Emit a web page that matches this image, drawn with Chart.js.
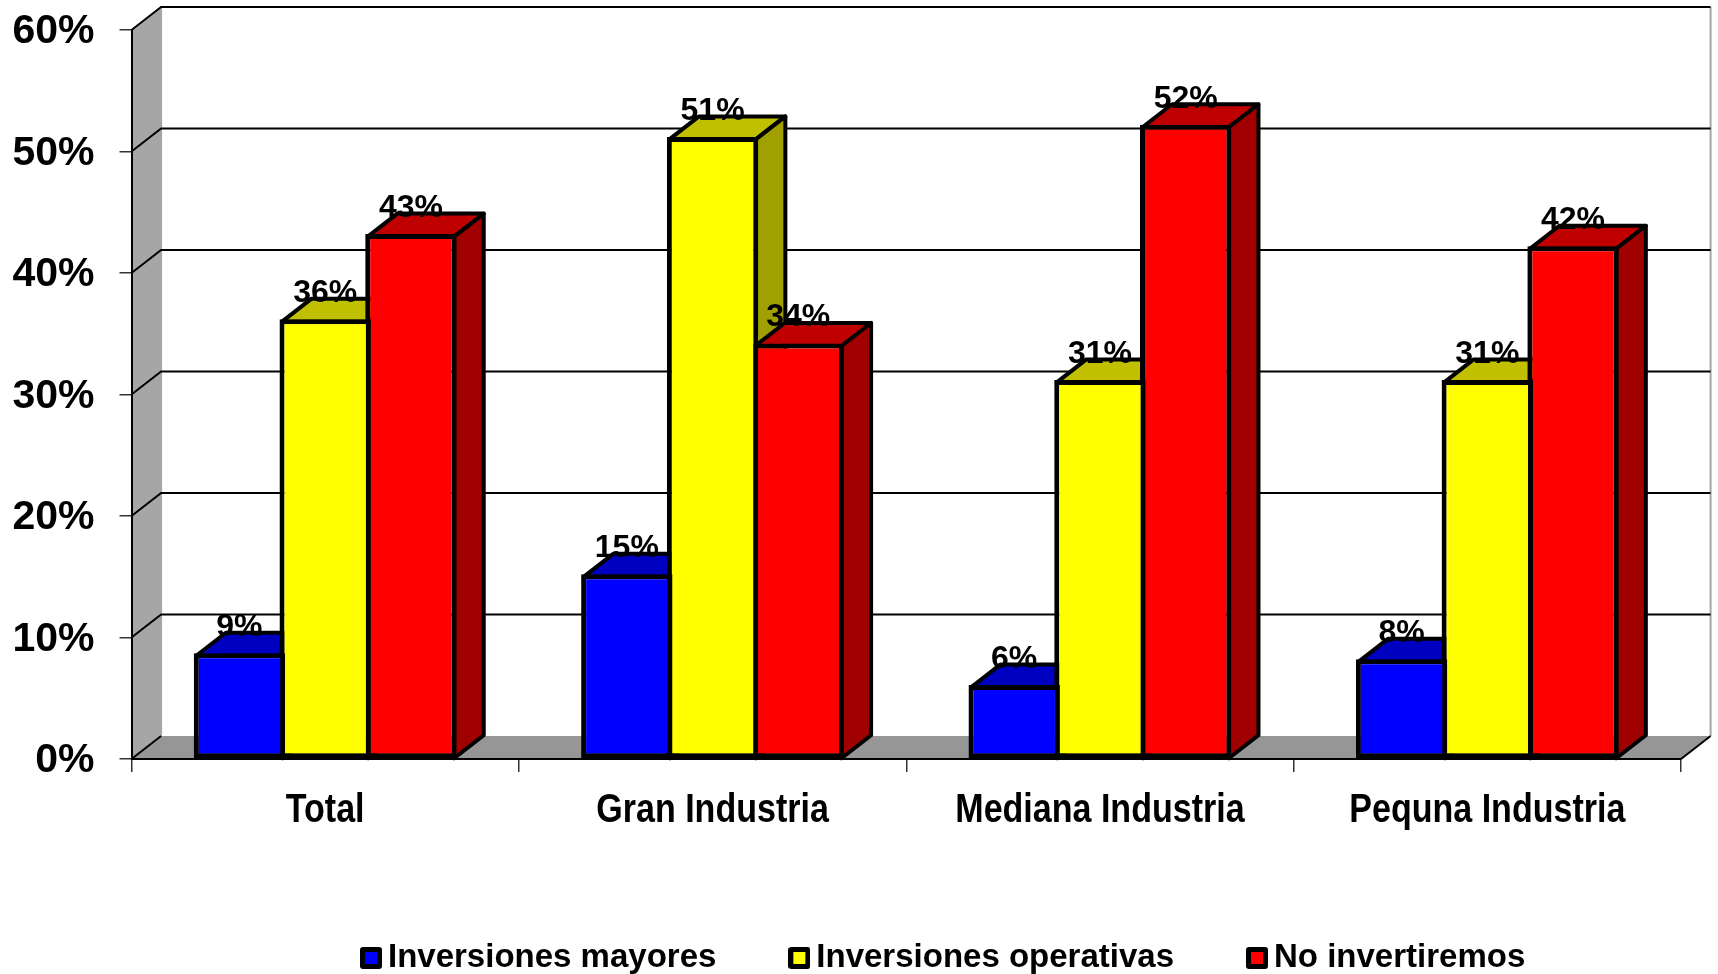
<!DOCTYPE html>
<html lang="es">

<head>
    <meta charset="UTF-8">
    <title>Inversiones por tamaño de industria</title>
    <script src="https://cdn.jsdelivr.net/npm/chart.js"></script>
    <style>
        html, body { margin: 0; padding: 0; background: #fff; overflow: hidden; }
        canvas { display: block; }
    </style>
</head>

<body>
    <canvas id="barChart" width="1718" height="974"></canvas>

    <script>
        const categories = ['Total', 'Gran Industria', 'Mediana Industria', 'Pequna Industria'];
        const seriesNames = ['Inversiones mayores', 'Inversiones operativas', 'No invertiremos'];
        const inversionesMayores = [8.7, 15.2, 6.1, 8.2];
        const inversionesOperativas = [36.2, 51.2, 31.2, 31.2];
        const noInvertiremos = [43.2, 34.2, 52.2, 42.2];

        // front, top, side face of each series
        const faceColors = [
            ['#0000ff', '#0000c0', '#0000a0'],
            ['#ffff00', '#c0c000', '#a0a000'],
            ['#ff0000', '#c00000', '#a00000']
        ];
        const depthX = 29.6;
        const depthY = 23;

        // legend marker, handed to the legend as an image point style
        function legendMarker(color) {
            const c = document.createElement('canvas');
            c.width = 22;
            c.height = 22;
            const g = c.getContext('2d');
            g.fillStyle = '#000';
            g.beginPath();
            g.roundRect(0, 0, 22, 22, 3);
            g.fill();
            g.fillStyle = color;
            g.fillRect(5, 5, 12, 12);
            return c;
        }

        function polygon(ctx, points, fill, stroke, width) {
            ctx.beginPath();
            points.forEach((p, i) => i ? ctx.lineTo(p[0], p[1]) : ctx.moveTo(p[0], p[1]));
            ctx.closePath();
            ctx.fillStyle = fill;
            ctx.fill();
            if (stroke) {
                ctx.strokeStyle = stroke;
                ctx.lineWidth = width;
                ctx.lineJoin = 'round';
                ctx.stroke();
            }
        }

        // side wall, floor and the gridlines of the back plane
        const wallsPlugin = {
            id: 'walls',
            beforeDraw(chart) {
                const { ctx, chartArea: a, scales } = chart;
                ctx.save();
                polygon(ctx, [[a.left, a.top], [a.left + depthX, a.top - depthY], [a.left + depthX, a.bottom - depthY], [a.left, a.bottom]], '#a6a6a6');
                polygon(ctx, [[a.left, a.bottom], [a.left + depthX, a.bottom - depthY], [a.right + depthX, a.bottom - depthY], [a.right, a.bottom]], '#969696');

                ctx.strokeStyle = '#a6a6a6';
                ctx.lineWidth = 2;
                ctx.beginPath();
                ctx.moveTo(a.left + depthX, a.top - depthY);
                ctx.lineTo(a.left + depthX, a.bottom - depthY);
                ctx.moveTo(a.right + depthX, a.top - depthY);
                ctx.lineTo(a.right + depthX, a.bottom - depthY);
                ctx.stroke();

                ctx.strokeStyle = '#000';
                scales.y.ticks.forEach(t => {
                    const y = scales.y.getPixelForValue(t.value);
                    ctx.beginPath();
                    ctx.moveTo(a.left, y);
                    ctx.lineTo(a.left + depthX, y - depthY);
                    if (t.value > 0) ctx.lineTo(a.right + depthX, y - depthY);
                    ctx.stroke();
                });
                ctx.beginPath();
                ctx.moveTo(a.right, a.bottom);
                ctx.lineTo(a.right + depthX, a.bottom - depthY);
                ctx.stroke();
                ctx.restore();
            }
        };

        // tops and sides of all bars left to right; the library then puts the fronts over them
        const depthPlugin = {
            id: 'depth',
            beforeDatasetsDraw(chart) {
                const ctx = chart.ctx;
                ctx.save();
                categories.forEach((c, j) => {
                    faceColors.forEach((colors, i) => {
                        const p = chart.getDatasetMeta(i).data[j].getProps(['x', 'y', 'base', 'width'], true);
                        const l = p.x - p.width / 2 + 2.5;
                        const r = p.x + p.width / 2 - 2.5;
                        const t = p.y + 2.5;
                        polygon(ctx, [[l, t], [l + depthX, t - depthY], [r + depthX, t - depthY], [r, t]], colors[1], '#000', 4);
                        polygon(ctx, [[r, t], [r + depthX, t - depthY], [r + depthX, p.base - depthY], [r, p.base]], colors[2], '#000', 4);
                    });
                });
                ctx.restore();
            }
        };

        const valueLabelPlugin = {
            id: 'valueLabels',
            afterDatasetsDraw(chart) {
                const ctx = chart.ctx;
                ctx.save();
                ctx.fillStyle = '#000';
                ctx.font = 'bold 32px "Liberation Sans", Arial, sans-serif';
                ctx.textAlign = 'center';
                ctx.textBaseline = 'alphabetic';
                chart.data.datasets.forEach((ds, i) => {
                    chart.getDatasetMeta(i).data.forEach((bar, j) => {
                        ctx.fillText(Math.round(ds.data[j]) + '%', bar.x, bar.y - 17);
                    });
                });
                ctx.restore();
            }
        };

        // category names are narrower than any installed face, so squeeze them sideways
        const categoryLabelPlugin = {
            id: 'categoryLabels',
            afterDraw(chart) {
                const ctx = chart.ctx;
                const x = chart.scales.x;
                ctx.save();
                ctx.fillStyle = '#000';
                ctx.font = 'bold 41px "Liberation Sans", Arial, sans-serif';
                ctx.textAlign = 'center';
                ctx.textBaseline = 'middle';
                categories.forEach((name, i) => {
                    ctx.save();
                    ctx.translate(x.getPixelForValue(i), chart.chartArea.bottom + 52);
                    ctx.scale(0.83, 1);
                    ctx.fillText(name, 0, 0);
                    ctx.restore();
                });
                ctx.restore();
            }
        };

        // the legend sits off-centre in the original
        const legendPlacePlugin = {
            id: 'legendPlace',
            afterLayout(chart) {
                const legend = chart.legend;
                const h = legend.height;
                legend.left = 288;
                legend.right = 1718 + 288;
                legend.top = 859;
                legend.bottom = legend.top + h;
            }
        };

        const allSeries = [inversionesMayores, inversionesOperativas, noInvertiremos];

        new Chart(document.getElementById('barChart').getContext('2d'), {
            type: 'bar',
            data: {
                labels: categories,
                datasets: seriesNames.map((name, i) => ({
                    label: name,
                    data: allSeries[i],
                    backgroundColor: faceColors[i][0],
                    borderColor: '#000',
                    borderWidth: 5,
                    borderSkipped: false,
                    categoryPercentage: 0.664,
                    barPercentage: 1.066
                }))
            },
            options: {
                responsive: false,
                animation: false,
                devicePixelRatio: 1,
                layout: { padding: { top: 30, right: 37, left: 0, bottom: 0 } },
                plugins: {
                    tooltip: { enabled: false },
                    legend: {
                        position: 'bottom',
                        align: 'start',
                        labels: {
                            color: '#000',
                            font: { family: '"Liberation Sans", Arial, sans-serif', size: 33, weight: 'bold' },
                            usePointStyle: true,
                            boxWidth: 1,
                            padding: 82.5,
                            generateLabels(chart) {
                                return chart.data.datasets.map((ds, i) => ({
                                    text: ds.label,
                                    pointStyle: legendMarker(faceColors[i][0]),
                                    datasetIndex: i,
                                    fontColor: '#000',
                                    lineWidth: 0
                                }));
                            }
                        }
                    }
                },
                scales: {
                    x: {
                        afterFit(s) { s.height = 215 - s.chart.legend.height; s.paddingLeft = 0; s.paddingRight = 0; },
                        grid: { drawOnChartArea: false, color: '#333', lineWidth: 1.5, tickLength: 13 },
                        border: { color: '#000', width: 2 },
                        ticks: { display: false }
                    },
                    y: {
                        min: 0,
                        max: 60,
                        afterFit(s) { s.width = 131.5; s.paddingTop = 0; s.paddingBottom = 0; },
                        grid: { drawOnChartArea: false, color: '#333', lineWidth: 1.5, tickLength: 12 },
                        border: { color: '#000', width: 2 },
                        ticks: {
                            stepSize: 10,
                            color: '#000',
                            padding: 25,
                            labelOffset: 2,
                            callback: v => v + '%',
                            font: { family: '"Liberation Sans", Arial, sans-serif', size: 41, weight: 'bold' }
                        }
                    }
                }
            },
            plugins: [wallsPlugin, depthPlugin, valueLabelPlugin, categoryLabelPlugin, legendPlacePlugin]
        });
    </script>
</body>

</html>
